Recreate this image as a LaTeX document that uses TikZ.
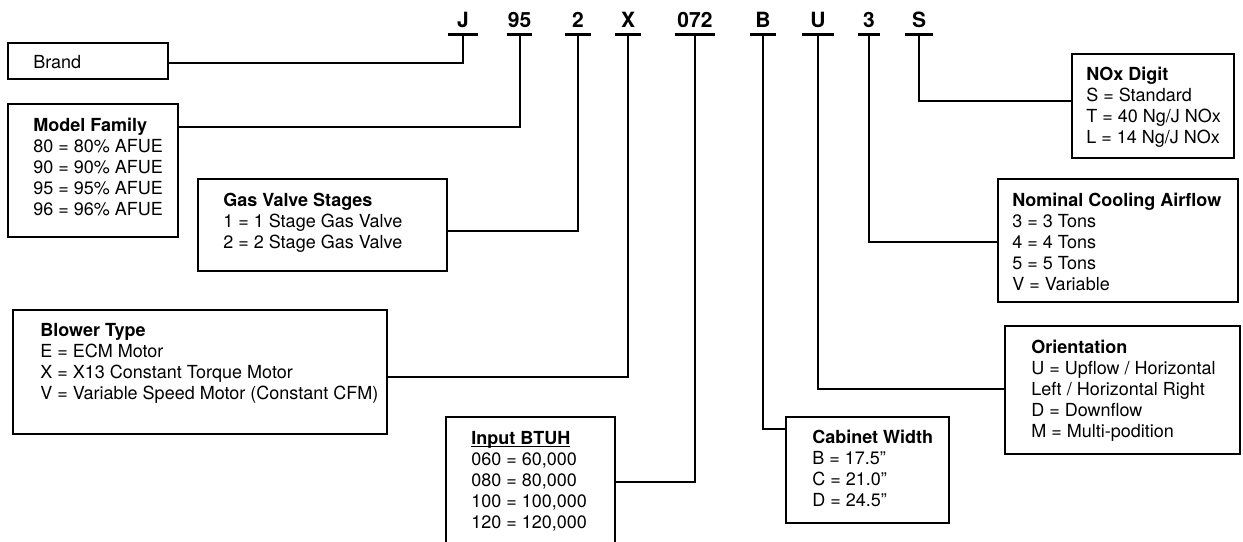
\documentclass[tikz,border=0pt]{standalone}
\usepackage{fontspec}
\setmainfont{TeX Gyre Heros}
\usetikzlibrary{fit}
\tikzset{
  box/.style={draw, line width=1.5pt, inner sep=0pt, rectangle},
  conn/.style={line width=1.5pt},
  uline/.style={line width=2.2pt},
  code/.style={font=\fontsize{15.75}{18}\selectfont\bfseries, anchor=base, inner sep=0pt, text depth=4.5pt},
  txt/.style={anchor=base west, inner sep=0pt, font=\fontsize{13.5}{15.75}\selectfont},
}
\newcommand{\tlines}[1]{\begin{tabular}[t]{@{}l@{}}#1\end{tabular}}
\newcommand{\myul}[1]{\underline{\smash{#1}}}
\begin{document}
\begin{tikzpicture}[x=0.75pt,y=-0.75pt]
\useasboundingbox (0,0) rectangle (1243,542);
% code characters
\node[code, minimum width=22.5pt]  (cJ)   at (463,28)   {J};
\node[code, minimum width=18.75pt] (c95)  at (519.5,28) {95};
\node[code, minimum width=19.5pt]  (c2)   at (578,28)   {2};
\node[code, minimum width=18.75pt] (cX)   at (628,28)   {X};
\node[code, minimum width=30pt]    (c072) at (695,28)   {072};
\node[code, minimum width=18.75pt] (cB)   at (763,28)   {B};
\node[code, minimum width=23.25pt] (cU)   at (818,28)   {U};
\node[code, minimum width=15.75pt] (c3)   at (869,28)   {3};
\node[code, minimum width=21pt]    (cS)   at (919,28)   {S};
\foreach \n in {cJ,c95,c2,cX,c072,cB,cU,c3,cS}
  \draw[uline] (\n.south west) -- (\n.south east);
% boxes
\node[box, fit={(8,43) (168,79)}]      (brand)   {};
\node[box, fit={(8,104) (178,237)}]    (model)   {};
\node[box, fit={(198,179) (447,271)}]  (gas)     {};
\node[box, fit={(13,310) (387,434)}]   (blower)  {};
\node[box, fit={(446,417) (615,552)}]  (input)   {};
\node[box, fit={(786,417) (949,523)}]  (cabinet) {};
\node[box, fit={(1005,326) (1240,454)}] (orient) {};
\node[box, fit={(998,179) (1238,302)}] (nominal) {};
\node[box, fit={(1072,54) (1234,158)}] (nox)     {};
% texts
\node[txt] (brandt) at (33,69) {Brand};
\node[txt] (modelt) at (33,132) {\tlines{\textbf{Model Family}\\80 = 80\% AFUE\\90 = 90\% AFUE\\95 = 95\% AFUE\\96 = 96\% AFUE}};
\node[txt] (gast) at (223,206) {\tlines{\textbf{Gas Valve Stages}\\1 = 1 Stage Gas Valve\\2 = 2 Stage Gas Valve}};
\node[txt] (blowert) at (40,336) {\tlines{\textbf{Blower Type}\\E = ECM Motor\\X = X13 Constant Torque Motor\\V = Variable Speed Motor (Constant CFM)}};
\node[txt] (inputt) at (471,444) {\tlines{\myul{\textbf{Input BTUH}}\\060 = 60,000\\080 = 80,000\\100 = 100,000\\120 = 120,000}};
\node[txt] (cabinett) at (812,443) {\tlines{\textbf{Cabinet Width}\\B = 17.5”\\C = 21.0”\\D = 24.5”}};
\node[txt] (orientt) at (1031,353) {\tlines{\textbf{Orientation}\\U = Upflow / Horizontal\\Left / Horizontal Right\\D = Downflow\\M = Multi-podition}};
\node[txt] (nominalt) at (1012,206) {\tlines{\textbf{Nominal Cooling Airflow}\\3 = 3 Tons\\4 = 4 Tons\\5 = 5 Tons\\V = Variable}};
\node[txt] (noxt) at (1086,81) {\tlines{\textbf{NOx Digit}\\S = Standard\\T = 40 Ng/J NOx\\L = 14 Ng/J NOx}};
% connector end points on box edges
\coordinate (brand-in)   at (168,63);
\coordinate (model-in)   at (178,127);
\coordinate (gas-in)     at (447,231);
\coordinate (blower-in)  at (387,377);
\coordinate (input-in)   at (615,482);
\coordinate (cabinet-in) at (786,429);
\coordinate (orient-in)  at (1005,389);
\coordinate (nominal-in) at (998,242);
\coordinate (nox-in)     at (1072,101);
% connectors
\draw[conn] (cJ.south)   |- (brand-in);
\draw[conn] (c95.south)  |- (model-in);
\draw[conn] (c2.south)   |- (gas-in);
\draw[conn] (cX.south)   |- (blower-in);
\draw[conn] (c072.south) |- (input-in);
\draw[conn] (cB.south)   |- (cabinet-in);
\draw[conn] (cU.south)   |- (orient-in);
\draw[conn] (c3.south)   |- (nominal-in);
\draw[conn] (cS.south)   |- (nox-in);
\end{tikzpicture}
\end{document}
